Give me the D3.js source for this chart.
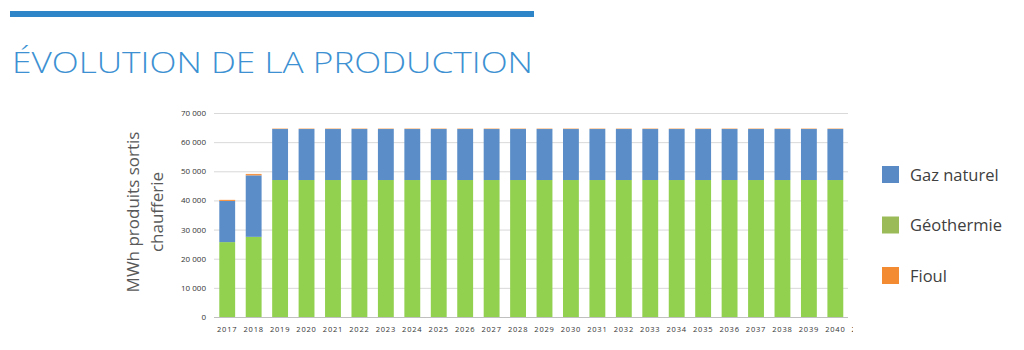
<!DOCTYPE html>
<html><head><meta charset="utf-8">
<script src="https://cdn.jsdelivr.net/npm/d3@7"></script>
<style>body{margin:0;background:#fff;}svg{display:block;}</style>
</head><body>
<svg id="c" width="1024" height="350"></svg>
<script>
const years = ["2017","2018","2019","2020","2021","2022","2023","2024","2025","2026","2027","2028","2029","2030","2031","2032","2033","2034","2035","2036","2037","2038","2039","2040","2041"];
const geothermie = [25700,27500,47000,47000,47000,47000,47000,47000,47000,47000,47000,47000,47000,47000,47000,47000,47000,47000,47000,47000,47000,47000,47000,47000,47000];
const gazNaturel = [14100,21100,17500,17500,17500,17500,17500,17500,17500,17500,17500,17500,17500,17500,17500,17500,17500,17500,17500,17500,17500,17500,17500,17500,17500];
const fioul = [400,500,150,150,150,150,150,150,150,150,150,150,150,150,150,150,150,150,150,150,150,150,150,150,150];
const yTicks = [0,10000,20000,30000,40000,50000,60000,70000];
const seriesNames = ["Gaz naturel","Géothermie","Fioul"];
const barColors = {"Géothermie":"#92d050","Gaz naturel":"#5b8ec8","Fioul":"#f79646"};
const legendColors = {"Gaz naturel":"#5a8ac6","Géothermie":"#9bbb59","Fioul":"#f38b32"};

const svg = d3.select("#c");
// top rule + title
svg.append("rect").attr("x",10).attr("y",11).attr("width",524).attr("height",6).attr("fill","#2e86c8");
svg.append("text").attr("x",12).attr("y",73).attr("font-family","Open Sans, sans-serif").attr("font-weight",300)
  .attr("font-size",30).attr("fill","#3d91d2").attr("textLength",521).attr("lengthAdjust","spacingAndGlyphs")
  .text("ÉVOLUTION DE LA PRODUCTION");

const x = d3.scaleBand().domain(years).range([214,875]).paddingInner(0.4).paddingOuter(0.2);
const y = d3.scaleLinear().domain([0,70000]).range([317,113]);

svg.append("defs").append("clipPath").attr("id","clip").append("rect").attr("x",0).attr("y",0).attr("width",853).attr("height",350);
const g = svg.append("g").attr("clip-path","url(#clip)");

// grid
g.selectAll("line.grid").data(yTicks).join("line")
  .attr("x1",214).attr("x2",848).attr("y1",d=>y(d)+0.5).attr("y2",d=>y(d)+0.5)
  .attr("stroke",d=>d===0?"#bfbfbf":"#d9d9d9").attr("stroke-width",1);

const data = years.map((yr,i)=>({year:yr,"Géothermie":geothermie[i],"Gaz naturel":gazNaturel[i],"Fioul":fioul[i]}));
const stack = d3.stack().keys(["Géothermie","Gaz naturel","Fioul"])(data);
g.selectAll("g.s").data(stack).join("g").attr("fill",d=>barColors[d.key])
  .selectAll("rect").data(d=>d).join("rect")
  .attr("x",d=>x(d.data.year)).attr("width",x.bandwidth())
  .attr("y",d=>y(d[1])).attr("height",d=>y(d[0])-y(d[1]));

// y tick labels
svg.selectAll("text.yt").data(yTicks).join("text")
  .attr("x",206).attr("y",d=>y(d)+3).attr("text-anchor","end")
  .attr("font-family","Open Sans, sans-serif").attr("font-size",8).attr("fill","#333")
  .text(d=>d===0?"0":(d/1000)+" 000");

// x labels
g.selectAll("text.xt").data(years).join("text")
  .attr("x",d=>x(d)+x.bandwidth()/2).attr("y",332).attr("text-anchor","middle")
  .attr("font-family","Open Sans, sans-serif").attr("font-size",7.5).attr("fill","#333").attr("letter-spacing",0.8)
  .text(d=>d);

// y title
const yt = svg.append("text").attr("transform","translate(133,212) rotate(-90)")
  .attr("text-anchor","middle").attr("font-family","Open Sans, sans-serif").attr("font-size",17).attr("fill","#595959");
yt.append("tspan").attr("x",0).attr("y",6).text("MWh produits sortis");
yt.append("tspan").attr("x",0).attr("y",30).text("chaufferie");

// legend
const lg = svg.selectAll("g.lg").data(seriesNames).join("g")
  .attr("transform",(d,i)=>`translate(882,${166+i*50.5})`);
lg.append("rect").attr("width",17).attr("height",17).attr("fill",d=>legendColors[d]);
lg.append("text").attr("x",28).attr("y",14.5).attr("font-family","Open Sans, sans-serif").attr("font-size",16.5).attr("fill","#404040").text(d=>d);
</script>
</body></html>
